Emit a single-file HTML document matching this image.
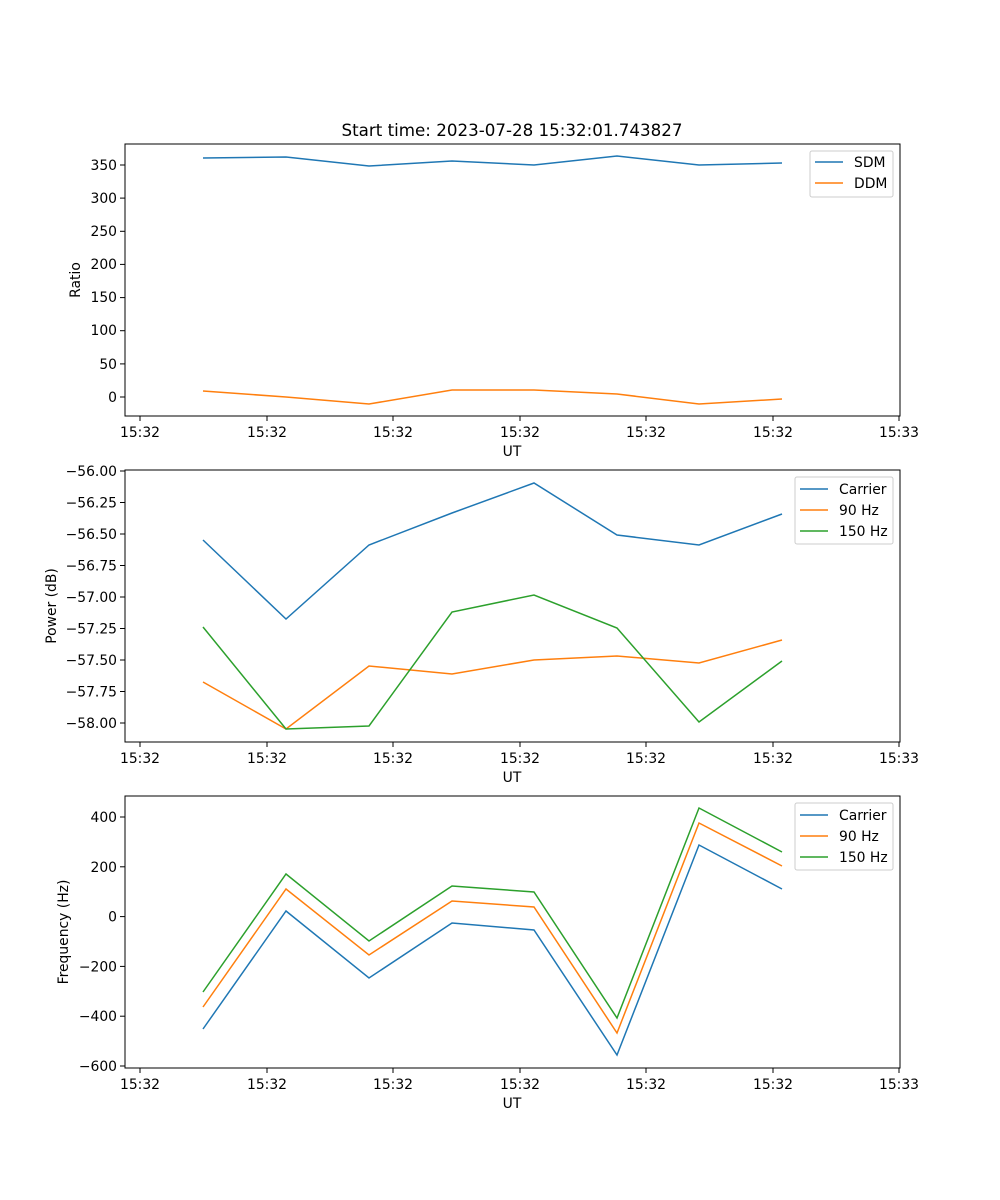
<!DOCTYPE html>
<html><head><meta charset="utf-8"><style>body{margin:0;background:#fff}svg{display:block}text{font-family:"DejaVu Sans","Liberation Sans",sans-serif;font-size:13.9px;fill:#000}</style></head><body>
<svg width="1000" height="1200" viewBox="0 0 1000 1200" xmlns="http://www.w3.org/2000/svg">
<rect width="1000" height="1200" fill="#fff"/>
<text x="512" y="136" text-anchor="middle" style="font-size:16.7px">Start time: 2023-07-28 15:32:01.743827</text>

<!-- Panel 1 -->
<g>
<rect x="125" y="144" width="775" height="272" fill="none" stroke="#000" stroke-width="1"/>
<g stroke="#000">
<line x1="140" y1="416" x2="140" y2="421"/><line x1="267" y1="416" x2="267" y2="421"/><line x1="393" y1="416" x2="393" y2="421"/><line x1="520" y1="416" x2="520" y2="421"/><line x1="646" y1="416" x2="646" y2="421"/><line x1="773" y1="416" x2="773" y2="421"/><line x1="899" y1="416" x2="899" y2="421"/>
<line x1="120" y1="165" x2="125" y2="165"/><line x1="120" y1="198.1" x2="125" y2="198.1"/><line x1="120" y1="231.3" x2="125" y2="231.3"/><line x1="120" y1="264.4" x2="125" y2="264.4"/><line x1="120" y1="297.6" x2="125" y2="297.6"/><line x1="120" y1="330.7" x2="125" y2="330.7"/><line x1="120" y1="363.9" x2="125" y2="363.9"/><line x1="120" y1="397" x2="125" y2="397"/>
</g>
<g text-anchor="middle"><text x="140" y="437">15:32</text><text x="267" y="437">15:32</text><text x="393" y="437">15:32</text><text x="520" y="437">15:32</text><text x="646" y="437">15:32</text><text x="773" y="437">15:32</text><text x="899" y="437">15:33</text></g>
<text x="512" y="456" text-anchor="middle">UT</text>
<g text-anchor="end"><text x="117" y="170">350</text><text x="117" y="203">300</text><text x="117" y="236">250</text><text x="117" y="269">200</text><text x="117" y="302">150</text><text x="117" y="335">100</text><text x="117" y="369">50</text><text x="117" y="402">0</text></g>
<text transform="translate(80,280) rotate(-90)" text-anchor="middle">Ratio</text>
<polyline fill="none" stroke="#1f77b4" stroke-width="1.5" points="203,158 286,157 369,166 452,161 534,165 617,156 699,165 782,163"/>
<polyline fill="none" stroke="#ff7f0e" stroke-width="1.5" points="203,391 286,397 369,404 452,390 534,390 617,394 699,404 782,399"/>
<rect x="810" y="151" width="83" height="46" fill="#fff" stroke="#ccc" rx="2"/>
<line x1="815" y1="162" x2="843" y2="162" stroke="#1f77b4" stroke-width="1.5"/><text x="854" y="167">SDM</text>
<line x1="815" y1="183" x2="843" y2="183" stroke="#ff7f0e" stroke-width="1.5"/><text x="854" y="188">DDM</text>
</g>

<!-- Panel 2 -->
<g>
<rect x="125" y="470" width="775" height="272" fill="none" stroke="#000"/>
<g stroke="#000">
<line x1="140" y1="742" x2="140" y2="747"/><line x1="267" y1="742" x2="267" y2="747"/><line x1="393" y1="742" x2="393" y2="747"/><line x1="520" y1="742" x2="520" y2="747"/><line x1="646" y1="742" x2="646" y2="747"/><line x1="773" y1="742" x2="773" y2="747"/><line x1="899" y1="742" x2="899" y2="747"/>
<line x1="120" y1="471" x2="125" y2="471"/><line x1="120" y1="502.5" x2="125" y2="502.5"/><line x1="120" y1="534" x2="125" y2="534"/><line x1="120" y1="565.5" x2="125" y2="565.5"/><line x1="120" y1="597" x2="125" y2="597"/><line x1="120" y1="628.5" x2="125" y2="628.5"/><line x1="120" y1="660" x2="125" y2="660"/><line x1="120" y1="691.5" x2="125" y2="691.5"/><line x1="120" y1="723" x2="125" y2="723"/>
</g>
<g text-anchor="middle"><text x="140" y="763">15:32</text><text x="267" y="763">15:32</text><text x="393" y="763">15:32</text><text x="520" y="763">15:32</text><text x="646" y="763">15:32</text><text x="773" y="763">15:32</text><text x="899" y="763">15:33</text></g>
<text x="512" y="782" text-anchor="middle">UT</text>
<g text-anchor="end"><text x="117" y="476">−56.00</text><text x="117" y="507.5">−56.25</text><text x="117" y="539">−56.50</text><text x="117" y="570.5">−56.75</text><text x="117" y="602">−57.00</text><text x="117" y="633.5">−57.25</text><text x="117" y="665">−57.50</text><text x="117" y="696.5">−57.75</text><text x="117" y="728">−58.00</text></g>
<text transform="translate(56,606) rotate(-90)" text-anchor="middle">Power (dB)</text>
<polyline fill="none" stroke="#1f77b4" stroke-width="1.5" points="203,540 286,619 369,545 452,513 534,483 617,535 699,545 782,514"/>
<polyline fill="none" stroke="#ff7f0e" stroke-width="1.5" points="203,682 286,729 369,666 452,674 534,660 617,656 699,663 782,640"/>
<polyline fill="none" stroke="#2ca02c" stroke-width="1.5" points="203,627 286,729 369,726 452,612 534,595 617,628 699,722 782,661"/>
<rect x="795" y="477" width="98" height="67" fill="#fff" stroke="#ccc" rx="2"/>
<line x1="800" y1="489" x2="828" y2="489" stroke="#1f77b4" stroke-width="1.5"/><text x="839" y="494">Carrier</text>
<line x1="800" y1="510" x2="828" y2="510" stroke="#ff7f0e" stroke-width="1.5"/><text x="839" y="515">90 Hz</text>
<line x1="800" y1="531" x2="828" y2="531" stroke="#2ca02c" stroke-width="1.5"/><text x="839" y="536">150 Hz</text>
</g>

<!-- Panel 3 -->
<g>
<rect x="125" y="796" width="775" height="272" fill="none" stroke="#000"/>
<g stroke="#000">
<line x1="140" y1="1068" x2="140" y2="1073"/><line x1="267" y1="1068" x2="267" y2="1073"/><line x1="393" y1="1068" x2="393" y2="1073"/><line x1="520" y1="1068" x2="520" y2="1073"/><line x1="646" y1="1068" x2="646" y2="1073"/><line x1="773" y1="1068" x2="773" y2="1073"/><line x1="899" y1="1068" x2="899" y2="1073"/>
<line x1="120" y1="817" x2="125" y2="817"/><line x1="120" y1="866.8" x2="125" y2="866.8"/><line x1="120" y1="916.6" x2="125" y2="916.6"/><line x1="120" y1="966.4" x2="125" y2="966.4"/><line x1="120" y1="1016.2" x2="125" y2="1016.2"/><line x1="120" y1="1066" x2="125" y2="1066"/>
</g>
<g text-anchor="middle"><text x="140" y="1089">15:32</text><text x="267" y="1089">15:32</text><text x="393" y="1089">15:32</text><text x="520" y="1089">15:32</text><text x="646" y="1089">15:32</text><text x="773" y="1089">15:32</text><text x="899" y="1089">15:33</text></g>
<text x="512" y="1108" text-anchor="middle">UT</text>
<g text-anchor="end"><text x="117" y="822">400</text><text x="117" y="872">200</text><text x="117" y="921.6">0</text><text x="117" y="971.4">−200</text><text x="117" y="1021">−400</text><text x="117" y="1071">−600</text></g>
<text transform="translate(68,932) rotate(-90)" text-anchor="middle">Frequency (Hz)</text>
<polyline fill="none" stroke="#1f77b4" stroke-width="1.5" points="203,1029 286,911 369,978 452,923 534,930 617,1055 699,845 782,889"/>
<polyline fill="none" stroke="#ff7f0e" stroke-width="1.5" points="203,1007 286,889 369,955 452,901 534,907 617,1033 699,823 782,866"/>
<polyline fill="none" stroke="#2ca02c" stroke-width="1.5" points="203,992 286,874 369,941 452,886 534,892 617,1018 699,808 782,852"/>
<rect x="795" y="803" width="98" height="67" fill="#fff" stroke="#ccc" rx="2"/>
<line x1="800" y1="815" x2="828" y2="815" stroke="#1f77b4" stroke-width="1.5"/><text x="839" y="820">Carrier</text>
<line x1="800" y1="836" x2="828" y2="836" stroke="#ff7f0e" stroke-width="1.5"/><text x="839" y="841">90 Hz</text>
<line x1="800" y1="857" x2="828" y2="857" stroke="#2ca02c" stroke-width="1.5"/><text x="839" y="862">150 Hz</text>
</g>
</svg>
</body></html>
